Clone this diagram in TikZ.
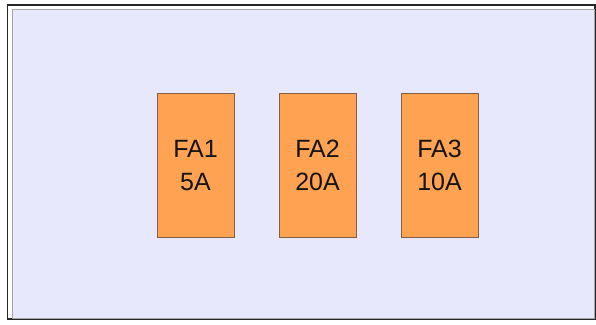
\documentclass[tikz,border=0pt]{standalone}
\usepackage{fontspec}
\setmainfont{Liberation Sans}
\usepackage{tikz}
\definecolor{FuseBoxColor}{RGB}{232,232,253}
\definecolor{FuseColor}{RGB}{255,162,82}
\definecolor{FuseEdgeColor}{RGB}{130,95,70}

\begin{document}
\begin{tikzpicture}[x=1pt,y=-1pt,fuse/.style={draw=FuseEdgeColor,fill=FuseColor,minimum width=77pt,minimum height=144pt,inner sep=0pt,align=center,font=\fontsize{25}{33}\selectfont,text=black!92}]
\useasboundingbox (0,0) rectangle (596,324);
\draw[line width=1.2pt,black!85] (7.5,5) rectangle (595,319);
\draw[fill=FuseBoxColor,draw=gray!70] (12.5,9.5) rectangle (594,318.5);
\foreach \x/\n/\a in %
{195.5/1/5A,317.5/2/20A,439.5/3/10A} {
   \node[fuse](fa\n) at(\x,165.5) {FA\n\\\a};
}
\end{tikzpicture}
\end{document}
